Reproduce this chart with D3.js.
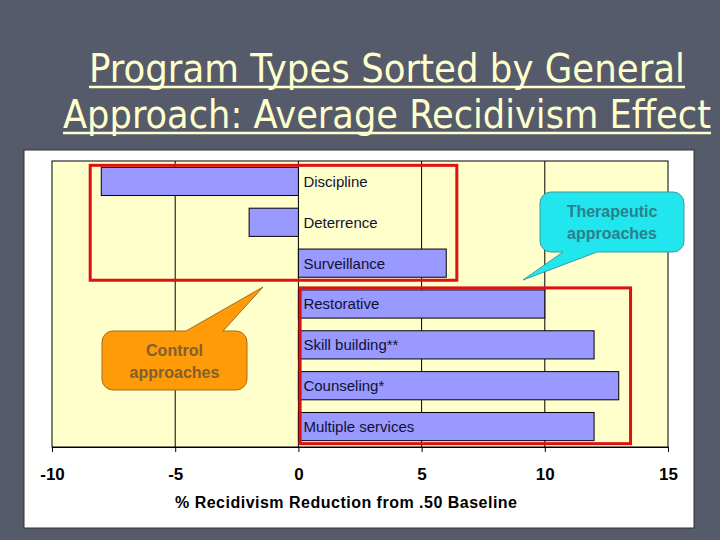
<!DOCTYPE html>
<html>
<head>
<meta charset="utf-8">
<script src="https://cdn.jsdelivr.net/npm/d3@7"></script>
<style>
  html, body { margin: 0; padding: 0; background: #565b6b; }
  svg { display: block; }
</style>
</head>
<body>
<div id="chart"></div>
<script>
(function(){
    // data
    const categories = ['Discipline', 'Deterrence', 'Surveillance', 'Restorative',
        'Skill building**', 'Counseling*', 'Multiple services'];
    const values = [-8, -2, 6, 10, 12, 13, 12];
    const xTicks = [-10, -5, 0, 5, 10, 15];
    const gridTicks = [-5, 0, 5, 10];
    const titleLines = ['Program Types Sorted by General', 'Approach: Average Recidivism Effect'];
    const xTitle = '% Recidivism Reduction from .50 Baseline';

    const W = 720, H = 540;
    const plot = { left: 52, top: 161, right: 668, bottom: 447 };

    const svg = d3.select('#chart')
        .append('svg')
            .attr('width', W)
            .attr('height', H);

    // slide background
    svg.append('rect')
        .attr('width', W)
        .attr('height', H)
        .style('fill', '#565b6b');

    // title with underline
    const titleX = [[89, 685], [63, 711]];
    const titleY = [82, 128];
    titleLines.forEach((t, i) => {
        svg.append('text')
            .attr('x', titleX[i][0])
            .attr('y', titleY[i])
            .attr('textLength', titleX[i][1] - titleX[i][0])
            .attr('lengthAdjust', 'spacingAndGlyphs')
            .style('font-family', '"DejaVu Sans Condensed", "DejaVu Sans", sans-serif')
            .style('font-size', '39px')
            .style('fill', '#ffffcc')
            .text(t);
        svg.append('line')
            .attr('x1', titleX[i][0]).attr('x2', titleX[i][1])
            .attr('y1', titleY[i] + 5).attr('y2', titleY[i] + 5)
            .style('stroke', '#ffffcc')
            .style('stroke-width', 2.5);
    });

    // white chart box
    svg.append('rect')
        .attr('x', 24).attr('y', 150)
        .attr('width', 670).attr('height', 378)
        .style('fill', '#ffffff')
        .style('stroke', '#333333')
        .style('stroke-width', 1);

    const xScale = d3.scaleLinear()
        .domain([-10, 15])
        .range([plot.left, plot.right]);

    const yScale = d3.scaleBand()
        .domain(categories)
        .range([plot.top, plot.bottom])
        .paddingInner(0.31)
        .paddingOuter(0.155);

    // plot area
    svg.append('rect')
        .attr('x', plot.left).attr('y', plot.top)
        .attr('width', plot.right - plot.left)
        .attr('height', plot.bottom - plot.top)
        .style('fill', '#ffffcc')
        .style('stroke', '#000')
        .style('stroke-width', 1);

    svg.append('g')
        .selectAll('line')
        .data(gridTicks)
        .join('line')
            .attr('x1', d => xScale(d)).attr('x2', d => xScale(d))
            .attr('y1', plot.top).attr('y2', plot.bottom)
            .style('stroke', '#000')
            .style('stroke-width', 1);

    // bars
    svg.append('g')
        .selectAll('rect')
        .data(values)
        .join('rect')
            .attr('x', d => xScale(Math.min(0, d)))
            .attr('y', (d, i) => yScale(categories[i]))
            .attr('width', d => Math.abs(xScale(d) - xScale(0)))
            .attr('height', yScale.bandwidth())
            .style('fill', '#9999ff')
            .style('stroke', '#000')
            .style('stroke-width', 1);

    // category labels sit right of the zero line
    svg.append('g')
        .selectAll('text')
        .data(categories)
        .join('text')
            .attr('x', xScale(0) + 5)
            .attr('y', d => yScale(d) + yScale.bandwidth() / 2)
            .attr('dy', '0.36em')
            .style('font-family', 'Arial, "Liberation Sans", sans-serif')
            .style('font-size', '15px')
            .style('fill', '#111133')
            .text(d => d);

    // x axis
    const xAxis = d3.axisBottom(xScale)
        .tickValues(xTicks)
        .tickFormat(d => String(d))
        .tickSize(5)
        .tickPadding(16);

    const axisG = svg.append('g')
        .attr('transform', `translate(0, ${plot.bottom})`)
        .call(xAxis);
    axisG.select('.domain').style('stroke', '#000');
    axisG.selectAll('.tick line').style('stroke', '#000');
    axisG.selectAll('.tick text')
        .style('font-family', 'Arial, "Liberation Sans", sans-serif')
        .style('font-size', '17px')
        .style('font-weight', 'bold')
        .style('fill', '#000');

    svg.append('text')
        .attr('x', 175)
        .attr('y', 508)
        .attr('textLength', 342)
        .attr('lengthAdjust', 'spacing')
        .style('font-family', 'Arial, "Liberation Sans", sans-serif')
        .style('font-size', '16px')
        .style('font-weight', 'bold')
        .style('fill', '#000')
        .text(xTitle);

    // red grouping boxes
    const groups = [
        { x0: -8.45, x1: 6.43, first: 'Discipline', last: 'Surveillance' },
        { x0: 0.07, x1: 13.48, first: 'Restorative', last: 'Multiple services' }
    ];
    svg.append('g')
        .selectAll('rect')
        .data(groups)
        .join('rect')
            .attr('x', d => xScale(d.x0))
            .attr('y', d => yScale(d.first) - 2)
            .attr('width', d => xScale(d.x1) - xScale(d.x0))
            .attr('height', d => yScale(d.last) + yScale.bandwidth() + 3 - (yScale(d.first) - 2))
            .style('fill', 'none')
            .style('stroke', '#dd1111')
            .style('stroke-width', 3);

    // callout bubbles
    function bubble(x0, y0, x1, y1, r, tail, side) {
        const p = d3.path();
        p.moveTo(x0 + r, y0);
        if (side === 'top') {
            p.lineTo(tail[0], y0);
            p.lineTo(tail[2], tail[3]);
            p.lineTo(tail[1], y0);
        }
        p.lineTo(x1 - r, y0);
        p.arcTo(x1, y0, x1, y0 + r, r);
        p.lineTo(x1, y1 - r);
        p.arcTo(x1, y1, x1 - r, y1, r);
        if (side === 'bottom') {
            p.lineTo(tail[1], y1);
            p.lineTo(tail[2], tail[3]);
            p.lineTo(tail[0], y1);
        }
        p.lineTo(x0 + r, y1);
        p.arcTo(x0, y1, x0, y1 - r, r);
        p.lineTo(x0, y0 + r);
        p.arcTo(x0, y0, x0 + r, y0, r);
        p.closePath();
        return p.toString();
    }

    const callouts = [
        { box: [540, 192, 684, 252], tail: [563, 597, 523, 280], side: 'bottom',
          fill: '#22e6ee', stroke: '#3a9aa0', color: '#2a7f8c', lines: ['Therapeutic', 'approaches'] },
        { box: [102, 331, 247, 390], tail: [186, 223, 263, 287], side: 'top',
          fill: '#ff9a08', stroke: '#a86a20', color: '#80602e', lines: ['Control', 'approaches'] }
    ];

    callouts.forEach(c => {
        const [x0, y0, x1, y1] = c.box;
        svg.append('path')
            .attr('d', bubble(x0, y0, x1, y1, 11, c.tail, c.side))
            .style('fill', c.fill)
            .style('stroke', c.stroke)
            .style('stroke-width', 1);
        c.lines.forEach((t, i) => {
            svg.append('text')
                .attr('x', (x0 + x1) / 2)
                .attr('y', (y0 + y1) / 2 - 5 + i * 22)
                .attr('text-anchor', 'middle')
                .style('font-family', 'Arial, "Liberation Sans", sans-serif')
                .style('font-size', '16px')
                .style('font-weight', 'bold')
                .style('fill', c.color)
                .text(t);
        });
    });
}())
</script>
</body>
</html>
